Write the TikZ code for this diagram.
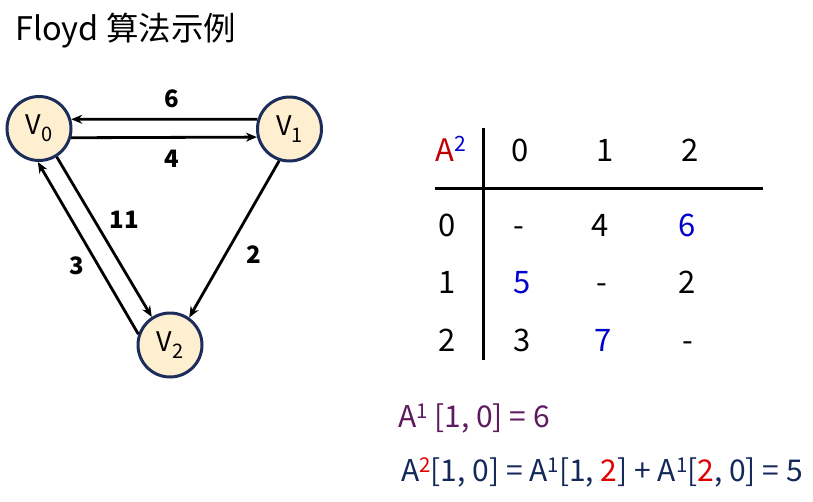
\documentclass[tikz,border=0pt]{standalone}
\usepackage{fontspec}
\setmainfont{Noto Sans CJK SC}
\usetikzlibrary{arrows.meta}
\definecolor{nodefill}{HTML}{FDEFCF}
\definecolor{nodeedge}{HTML}{1C2D5C}
\definecolor{ared}{HTML}{C00000}
\definecolor{ablue}{HTML}{0000CC}
\definecolor{apurple}{HTML}{5E1A5E}
\definecolor{anavy}{HTML}{14285A}
\definecolor{tred}{HTML}{E00000}
\newcommand{\sz}[1]{\fontsize{#1}{#1}\selectfont}
\newcommand{\sups}[1]{\raisebox{0.3em}{\scalebox{0.68}{#1}}}
\tikzset{
  vert/.style={circle, draw=nodeedge, fill=nodefill, line width=3pt, minimum size=64pt, inner sep=0pt, font=\sz{27}},
  edge/.style={line width=2.8pt, -{Stealth[length=11pt,width=9pt]}},
  wlabel/.style={font=\sz{24}\bfseries, inner sep=0pt},
  cell/.style={font=\sz{31}, anchor=base, inner sep=0pt},
  rule/.style={line width=3pt},
  eqn/.style={font=\sz{30}, anchor=base west, inner sep=0pt}
}
\begin{document}
\begin{tikzpicture}[x=1pt,y=-1pt]
\useasboundingbox (0,0) rectangle (813,501);
% title
\node[anchor=base west, inner sep=0pt, font=\sz{32.5}] (title) at (15,40) {Floyd 算法示例};
% vertices
\node[vert] (v0) at (39,128.5) {V\raisebox{-0.25em}{\sz{20}0}};
\node[vert] (v1) at (289.5,129) {V\raisebox{-0.25em}{\sz{20}1}};
\node[vert] (v2) at (170,345) {V\raisebox{-0.25em}{\sz{20}2}};
% edges
\draw[edge] (v1.163) -- (v0.16);
\draw[edge] (v0.344) -- (v1.194);
\draw[edge] (v0.302) -- (v2.123);
\draw[edge] (v2.161) -- (v0.268);
\draw[edge] (v1.252) -- (v2.55);
% edge labels
\node[wlabel] (l6) at (172,99) {6};
\node[wlabel] (l4) at (172,159) {4};
\node[wlabel] (l11) at (124,220) {11};
\node[wlabel] (l3) at (77,266) {3};
\node[wlabel] (l2) at (254,255) {2};
% table
\coordinate (vt) at (483,128);
\coordinate (vb) at (483,360);
\coordinate (hl) at (435,188);
\coordinate (hr) at (763,188);
\draw[rule] (vt) -- (vb);
\draw[rule] (hl) -- (hr);
\node[cell] (hA) at (451,161) {\textcolor{ared}{A}\textcolor{ablue}{\sups{2}}};
\node[cell] (h0) at (520,161) {0};
\node[cell] (h1) at (605,161) {1};
\node[cell] (h2) at (690,161) {2};
\node[cell] (r0) at (447,236) {0};
\node[cell] (r1) at (447,293) {1};
\node[cell] (r2) at (447,351) {2};
\node[cell] (c00) at (519,236) {-};
\node[cell] (c01) at (600,236) {4};
\node[cell,text=ablue] (c02) at (687,236) {6};
\node[cell,text=ablue] (c10) at (522,293) {5};
\node[cell] (c11) at (602,293) {-};
\node[cell] (c12) at (687,293) {2};
\node[cell] (c20) at (522,351) {3};
\node[cell,text=ablue] (c21) at (603,351) {7};
\node[cell] (c22) at (688,351) {-};
% equations
\node[eqn,text=apurple] (eq1) at (398,427) {A\sups{1} [1, 0] = 6};
\node[eqn,text=anavy] (eq2) at (401,481) {A\textcolor{tred}{\sups{2}}[1, 0] = A\sups{1}[1, \textcolor{tred}{2}] + A\sups{1}[\textcolor{tred}{2}, 0] = 5};
\end{tikzpicture}
\end{document}
